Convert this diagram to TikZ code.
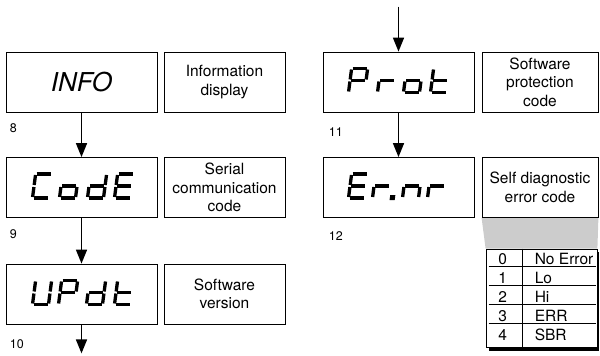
\documentclass[tikz,border=0pt]{standalone}
\usepackage{fontspec}
\setmainfont{TeX Gyre Heros}
\usetikzlibrary{arrows.meta,backgrounds}
\tikzset{
    display/.style = {draw, rectangle, line width=0.8pt,
        minimum height=60pt,
        minimum width=151pt, align=center},
    descr/.style = {draw, rectangle, line width=0.8pt,
        minimum height=60pt, align=center,
        font=\fontsize{15.5}{18.5}\selectfont},
    numlabel/.style = {anchor=north west, inner sep=0pt,
        font=\fontsize{12.5}{14}\selectfont},
    tabbox/.style = {draw, rectangle, fill=white, line width=0.8pt,
        minimum width=111pt, minimum height=98pt, inner sep=0pt},
    tabtext/.style = {inner sep=0pt, font=\fontsize{15.5}{18}\selectfont},
    arrow/.style = {draw, ->, line width=1.6pt},
    segline/.style = {line width=3.3pt, line cap=butt},
    seg a/.style = {insert path={(1,24)--(15,24)}},
    seg b/.style = {insert path={(16,23)--(16,13)}},
    seg c/.style = {insert path={(16,11)--(16,1)}},
    seg d/.style = {insert path={(1,0)--(15,0)}},
    seg e/.style = {insert path={(0,11)--(0,1)}},
    seg f/.style = {insert path={(0,23)--(0,13)}},
    seg g/.style = {insert path={(1,12)--(15,12)}},
    seg p/.style = {insert path={(19,-0.5) rectangle (20.8,1.3)}}
}
% one character of the seven segment display
\newcommand{\segchar}[2]{%
    \foreach \s in {#2} {\draw[segline, xshift=#1pt, seg \s];}%
}

\begin{document}
\begin{tikzpicture}[x=1pt, y=1pt, node distance=106pt,
    >={Triangle[length=14pt,width=11pt]}]
    \useasboundingbox (0,0) rectangle (600,356);
    % left column
    \node [display, font=\fontsize{26}{30}\selectfont\itshape] (info) at (81.5,274) {INFO};
    \node [descr, right of=info, node distance=143pt, minimum width=121pt] (infodesc) {Information\\display};
    \node [display, below of=info, node distance=105.5pt] (code) {};
    \node [descr, right of=code, node distance=143pt, minimum width=121pt] (codedesc) {Serial\\communication\\code};
    \node [display, below of=code, node distance=106.5pt] (updt) {};
    \node [descr, right of=updt, node distance=143pt, minimum width=121pt] (updtdesc) {Software\\version};
    % right column
    \node [display, right of=info, node distance=317pt] (prot) {};
    \node [descr, right of=prot, node distance=141.5pt, minimum width=116pt] (protdesc) {Software\\protection\\code};
    \node [display, below of=prot, node distance=105.5pt] (err) {};
    \node [descr, right of=err, node distance=141.5pt, minimum width=116pt] (errdesc) {Self diagnostic\\error code};
    \node [tabbox, below of=errdesc, node distance=110.5pt, xshift=1.5pt] (errtab) {};

    % step numbers
    \node [numlabel, xshift=4pt, yshift=-11pt] (lbl8) at (info.south west) {8};
    \node [numlabel, xshift=4pt, yshift=-12pt] (lbl9) at (code.south west) {9};
    \node [numlabel, xshift=4pt, yshift=-15pt] (lbl10) at (updt.south west) {10};
    \node [numlabel, xshift=6pt, yshift=-15pt] (lbl11) at (prot.south west) {11};
    \node [numlabel, xshift=6pt, yshift=-14pt] (lbl12) at (err.south west) {12};

    % seven segment texts
    \begin{scope}[shift={(code.center)}, xshift=-49pt, yshift=-10.5pt, xslant=0.13]
        \segchar{0}{a,d,e,f}
        \segchar{27}{c,d,e,g}
        \segchar{55}{b,c,d,e,g}
        \segchar{82}{a,d,e,f,g}
    \end{scope}
    \begin{scope}[shift={(updt.center)}, xshift=-49pt, yshift=-10.5pt, xslant=0.13]
        \segchar{0}{b,c,d,e,f}
        \segchar{26}{a,b,e,f,g}
        \segchar{54}{b,c,d,e,g}
        \segchar{82}{d,e,f,g}
    \end{scope}
    \begin{scope}[shift={(prot.center)}, xshift=-50pt, yshift=-10.5pt, xslant=0.13]
        \segchar{0}{a,b,e,f,g}
        \segchar{29}{e,g}
        \segchar{55}{c,d,e,g}
        \segchar{82}{d,e,f,g}
    \end{scope}
    \begin{scope}[shift={(err.center)}, xshift=-50pt, yshift=-10.5pt, xslant=0.13]
        \segchar{0}{a,d,e,f,g}
        \segchar{24}{e,g,p}
        \segchar{54}{c,e,g}
        \segchar{79}{e,g}
    \end{scope}

    % flow
    \coordinate (protin) at ([yshift=45pt]prot.north);
    \coordinate (updtout) at ([yshift=-29pt]updt.south);
    \draw [arrow] (info) -- (code);
    \draw [arrow] (code) -- (updt);
    \draw [arrow] (updt) -- (updtout);
    \draw [arrow] (protin) -- (prot);
    \draw [arrow] (prot) -- (err);

    % error code table
    \begin{scope}[on background layer]
        \fill [gray!40] (errdesc.south west) -- (errdesc.south east)
            -- (errtab.north east) -- (errtab.north west) -- cycle;
        \fill [black] ([xshift=3pt,yshift=-3.5pt]errtab.south west)
            rectangle ([xshift=2pt,yshift=-3pt]errtab.north east);
    \end{scope}
    \draw [line width=0.8pt] ([xshift=37pt]errtab.north west) -- ([xshift=37pt]errtab.south west);
    \foreach \dy in {18,37,56,75}
        \draw [line width=0.8pt] ([xshift=3pt,yshift=-\dy pt]errtab.north west)
            -- ([xshift=-1pt,yshift=-\dy pt]errtab.north east);
    \foreach \val/\txt/\dy [count=\k] in {0/No Error/15.5, 1/Lo/34.5, 2/Hi/53.5, 3/ERR/72.5, 4/SBR/91.5} {
        \node [tabtext, anchor=base] (val\k) at ([xshift=17pt,yshift=-\dy pt]errtab.north west) {\val};
        \node [tabtext, anchor=base west] (txt\k) at ([xshift=49pt,yshift=-\dy pt]errtab.north west) {\txt};
    }
\end{tikzpicture}
\end{document}
